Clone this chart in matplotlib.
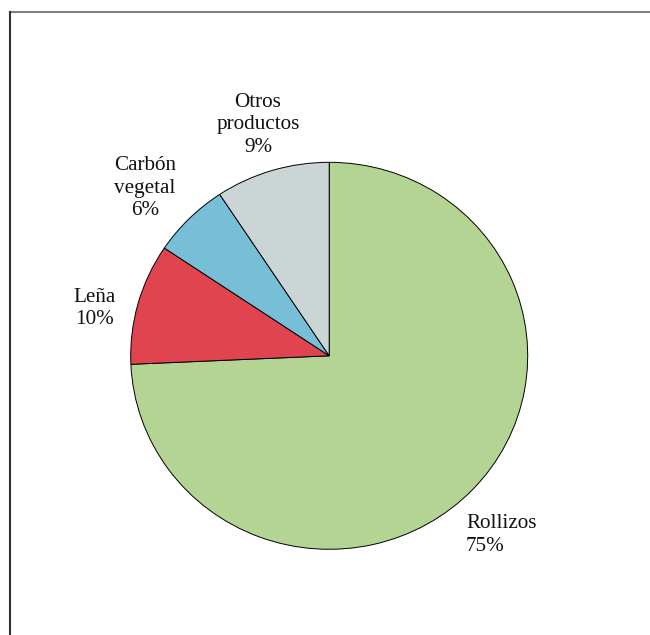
import matplotlib
matplotlib.use("Agg")
import matplotlib.pyplot as plt
from matplotlib.lines import Line2D

categories = ["Rollizos", "Leña", "Carbón\nvegetal", "Otros\nproductos"]
shares = [74.3, 10.1, 6.3, 9.3]
share_labels = ["75%", "10%", "6%", "9%"]
colours = ["#b3d493", "#e0444f", "#77bfd6", "#cbd5d5"]

# label anchors (pie radius = 1) and alignment
label_pos = [(0.689, -0.926), (-1.18, 0.244), (-0.928, 0.867), (-0.359, 1.193)]
label_ha = ["left", "center", "center", "center"]

plt.rcParams['font.family'] = ['Liberation Serif', 'DejaVu Serif']

fig = plt.figure(figsize=(6.5, 6.35), dpi=100)
ax = fig.add_axes([0, 0, 1, 1])

wedges, _ = ax.pie(shares, colors=colours, startangle=90, counterclock=False,
                   radius=1.0, center=(0, 0),
                   wedgeprops=dict(edgecolor='black', linewidth=0.7))

for name, pct, (x, y), ha in zip(categories, share_labels, label_pos, label_ha):
    ax.text(x, y, f'{name}\n{pct}', ha=ha, va='center', multialignment=ha,
            fontsize=15.2, linespacing=1.26, color='#111111')

# pixel-matched limits: centre at (329, 356) px, slightly squashed vertically
rx, ry = 198.5, 193.5
cx, cy = 329.2, 355.8
ax.set_aspect('auto')
ax.set_xlim(-cx / rx, (650 - cx) / rx)
ax.set_ylim(-(635 - cy) / ry, cy / ry)
ax.axis('off')

# frame: top and left lines only
fig.add_artist(Line2D([9.5 / 650, 1], [1 - 12 / 635, 1 - 12 / 635],
                      transform=fig.transFigure, color='#808080', linewidth=1.5))
fig.add_artist(Line2D([9.5 / 650, 9.5 / 650], [0, 1 - 12 / 635],
                      transform=fig.transFigure, color='#333333', linewidth=1.5))

fig.savefig('out.png', dpi=100)
